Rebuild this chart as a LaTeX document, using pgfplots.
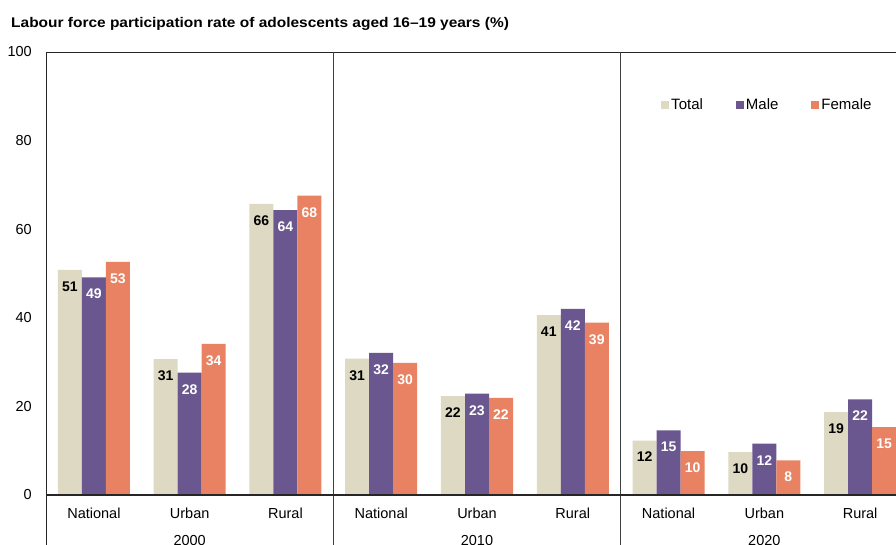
\documentclass[border=0pt]{standalone}
\usepackage{pgfplots}
\pgfplotsset{compat=1.18}
\usepackage{fontspec}
\setmainfont{Liberation Sans}
\definecolor{ctotal}{RGB}{221,217,195}
\definecolor{cmale}{RGB}{106,87,143}
\definecolor{cfemale}{RGB}{233,130,98}
\begin{document}
\begin{tikzpicture}
\path[use as bounding box] (0,0) rectangle (896pt,544pt);
\clip (0,0) rectangle (896pt,544pt);
\node[anchor=base west, inner sep=0pt, font=\bfseries\fontsize{14}{16}\selectfont] at (11pt,516.5pt) {\scalebox{1.105}[1]{Labour force participation rate of adolescents aged 16--19 years (\%)}};
\begin{axis}[
  at={(46pt,49pt)}, anchor=south west,
  scale only axis, width=862pt, height=443pt,
  xmin=-0.5, xmax=8.5, ymin=0, ymax=100,
  ybar=0pt, bar width=24pt,
  xtick={0,...,8},
  xticklabels={National,Urban,Rural,National,Urban,Rural,National,Urban,Rural},
  ytick={0,20,...,100},
  major tick length=0pt,
  axis line style={draw=black!85, line width=0.9pt},
  tick label style={font=\fontsize{14.5}{17}\selectfont},
  /pgf/number format/assume math mode=true,
  xticklabel style={anchor=north, inner sep=0pt, yshift=-13pt},
  yticklabel style={anchor=east, inner sep=0pt, xshift=-14pt},
  clip=false,
  point meta=y,
  nodes near coords={\pgfmathprintnumber[fixed,precision=0]{\pgfplotspointmeta}},
  every node near coord/.append style={anchor=north, inner sep=0pt, yshift=-11.5pt, font=\bfseries\fontsize{14}{16}\selectfont},
  legend columns=3,
  legend style={at={(axis description cs:0.7135,0.881)}, anchor=west, draw=none, fill=none, inner sep=0pt,
    font=\fontsize{15}{18}\selectfont, /tikz/every even column/.append style={column sep=31pt}},
  legend image code/.code={\fill[#1] (0pt,-4pt) rectangle (8pt,4pt);},
]
\addplot[fill=ctotal, draw=none, every node near coord/.append style={text=black}] coordinates {
(0,50.8) (1,30.7) (2,65.7) (3,30.8) (4,22.3) (5,40.6) (6,12.3) (7,9.7) (8,18.7)};
\addplot[fill=cmale, draw=none, every node near coord/.append style={text=white}] coordinates {
(0,49.1) (1,27.6) (2,64.3) (3,32.1) (4,22.9) (5,42.0) (6,14.6) (7,11.6) (8,21.6)};
\addplot[fill=cfemale, draw=none, every node near coord/.append style={text=white}] coordinates {
(0,52.6) (1,34.1) (2,67.6) (3,29.8) (4,21.9) (5,38.9) (6,9.9) (7,7.8) (8,15.3)};
\legend{Total,Male,Female}
\draw[black!75, line width=0.8pt] (axis cs:2.5,100) -- (axis cs:2.5,-15);
\draw[black!75, line width=0.8pt] (axis cs:5.5,100) -- (axis cs:5.5,-15);
\draw[black!85, line width=0.9pt] (axis cs:-0.5,0) -- (axis cs:-0.5,-15);
\draw[black!85, line width=1.6pt] (axis cs:-0.5,0) -- (axis cs:8.5,0);
\node[anchor=north, inner sep=0pt, yshift=-40pt, font=\fontsize{14.5}{17}\selectfont] at (axis cs:1,0) {2000};
\node[anchor=north, inner sep=0pt, yshift=-40pt, font=\fontsize{14.5}{17}\selectfont] at (axis cs:4,0) {2010};
\node[anchor=north, inner sep=0pt, yshift=-40pt, font=\fontsize{14.5}{17}\selectfont] at (axis cs:7,0) {2020};
\end{axis}
\end{tikzpicture}
\end{document}
